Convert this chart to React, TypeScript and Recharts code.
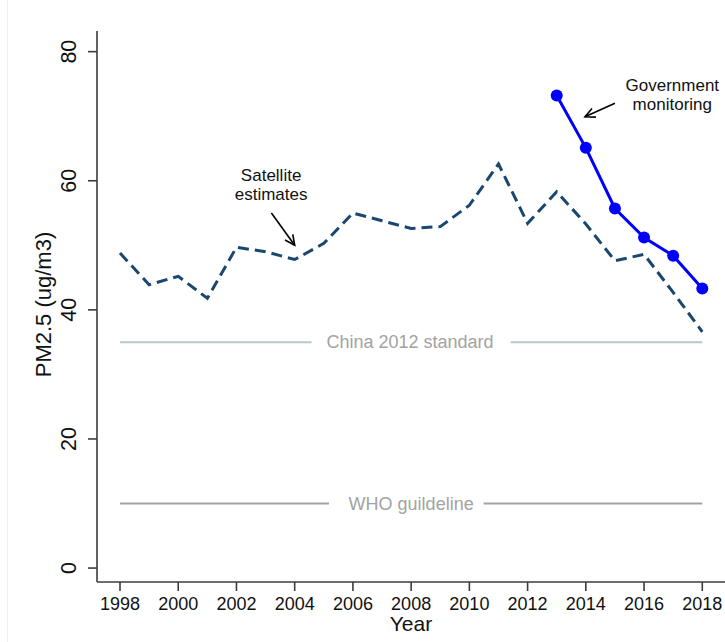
import { LineChart, Line, XAxis, YAxis, ReferenceLine, ReferenceDot } from 'recharts';

const YEARS = [
  1998, 1999, 2000, 2001, 2002, 2003, 2004, 2005, 2006, 2007, 2008,
  2009, 2010, 2011, 2012, 2013, 2014, 2015, 2016, 2017, 2018,
];
// satellite-derived PM2.5 (ug/m3)
const SATELLITE = [
  48.8, 43.9, 45.2, 41.8, 49.7, 49.0, 47.8, 50.3, 55.0, 53.8, 52.6,
  52.9, 56.2, 62.6, 53.4, 58.3, 53.3, 47.6, 48.6, 42.7, 36.6,
];
// ground station network
const GOV_YEARS = [2013, 2014, 2015, 2016, 2017, 2018];
const GOV = [73.2, 65.1, 55.7, 51.2, 48.4, 43.3];

const X_TICKS = [1998, 2000, 2002, 2004, 2006, 2008, 2010, 2012, 2014, 2016, 2018];
const Y_TICKS = [0, 20, 40, 60, 80];

const CHINA_STANDARD = 35;
const WHO_GUIDELINE = 10;

const FONT = '"Liberation Sans", Arial, sans-serif';
const AXIS = '#3c3c3c';
const NAVY = '#1a476f';
const BLUE = '#0000ff';
const GUIDE_TEXT = '#a3a3a3';

const data = YEARS.map((year, i) => {
  const g = GOV_YEARS.indexOf(year);
  return { year, satellite: SATELLITE[i], gov: g >= 0 ? GOV[g] : null };
});

const renderXTick = ({ x, y, payload }: any) => (
  <text x={x} y={y} dy={18.5} textAnchor="middle" fontSize={18} fontFamily={FONT} fill="#111">
    {payload.value}
  </text>
);

const renderYTick = ({ x, y, payload }: any) => (
  <text
    x={x - 12}
    y={y}
    transform={`rotate(-90 ${x - 12} ${y})`}
    textAnchor="middle"
    fontSize={21.5}
    fontFamily={FONT}
    fill="#111"
  >
    {payload.value}
  </text>
);

// straight line with an open arrowhead at the second point
const Arrow = (props: any) => {
  const { x1, y1, x2, y2 } = props;
  const ang = Math.atan2(y2 - y1, x2 - x1);
  const len = 11;
  const spread = 0.45;
  const a1 = ang + Math.PI - spread;
  const a2 = ang + Math.PI + spread;
  const head = `${x2 + len * Math.cos(a1)},${y2 + len * Math.sin(a1)} ${x2},${y2} ${
    x2 + len * Math.cos(a2)
  },${y2 + len * Math.sin(a2)}`;
  return (
    <g>
      <line x1={x1} y1={y1} x2={x2} y2={y2} stroke="#000" strokeWidth={1.6} />
      <polyline points={head} fill="none" stroke="#000" strokeWidth={1.6} />
    </g>
  );
};

// centered text block; first baseline sits on the anchor point
const textAt = (lines: string[], color: string, size: number, dy = 0) => (props: any) => (
  <text
    x={props.cx}
    y={props.cy + dy}
    textAnchor="middle"
    fontSize={size}
    fontFamily={FONT}
    fill={color}
  >
    {lines.map((l, i) => (
      <tspan key={l} x={props.cx} dy={i === 0 ? 0 : size * 1.15}>
        {l}
      </tspan>
    ))}
  </text>
);

export default function App() {
  return (
    <div style={{ position: 'absolute', left: 0, top: 0, width: 725, height: 642, background: '#fff' }}>
      <div style={{ position: 'absolute', left: 7, top: 0, width: 1, height: 642, background: '#efefef' }} />
      <LineChart
        width={725}
        height={642}
        data={data}
        margin={{ top: 31, right: 0, bottom: 0, left: 0 }}
        style={{ fontFamily: FONT }}
      >
        <XAxis
          dataKey="year"
          type="number"
          domain={[1997.21, 2018.78]}
          allowDataOverflow
          ticks={X_TICKS}
          interval={0}
          height={60}
          tickSize={9}
          tickMargin={0}
          axisLine={{ stroke: AXIS, strokeWidth: 1.6 }}
          tickLine={{ stroke: AXIS, strokeWidth: 1.6 }}
          tick={renderXTick}
          label={(p: any) => {
            const vb = p.viewBox || { x: 97, y: 582, width: 628, height: 60 };
            return (
              <text x={vb.x + vb.width / 2} y={vb.y + 49} textAnchor="middle" fontSize={21} fontFamily={FONT} fill="#111">
                Year
              </text>
            );
          }}
        />
        <YAxis
          type="number"
          domain={[-2.16, 83.2]}
          allowDataOverflow
          ticks={Y_TICKS}
          interval={0}
          width={97}
          tickSize={9}
          tickMargin={0}
          axisLine={{ stroke: AXIS, strokeWidth: 1.6 }}
          tickLine={{ stroke: AXIS, strokeWidth: 1.6 }}
          tick={renderYTick}
          label={(p: any) => {
            const vb = p.viewBox || { x: 0, y: 31, width: 97, height: 551 };
            const cx = vb.x + 50.5;
            const cy = vb.y + vb.height / 2 - 2;
            return (
              <text
                x={cx}
                y={cy}
                transform={`rotate(-90 ${cx} ${cy})`}
                textAnchor="middle"
                fontSize={22}
                fontFamily={FONT}
                fill="#111"
              >
                PM2.5 (ug/m3)
              </text>
            );
          }}
        />

        {/* China 2012 standard, broken around its label */}
        <ReferenceLine segment={[{ x: 1998, y: CHINA_STANDARD }, { x: 2004.58, y: CHINA_STANDARD }]} stroke="#b5c9c9" strokeWidth={2} />
        <ReferenceLine segment={[{ x: 2011.42, y: CHINA_STANDARD }, { x: 2018, y: CHINA_STANDARD }]} stroke="#b5c9c9" strokeWidth={2} />
        <ReferenceDot x={2007.96} y={CHINA_STANDARD} r={1} shape={textAt(['China 2012 standard'], GUIDE_TEXT, 18, 6)} />

        {/* WHO guideline */}
        <ReferenceLine segment={[{ x: 1998, y: WHO_GUIDELINE }, { x: 2005.18, y: WHO_GUIDELINE }]} stroke="#a3a3a3" strokeWidth={2} />
        <ReferenceLine segment={[{ x: 2010.49, y: WHO_GUIDELINE }, { x: 2018, y: WHO_GUIDELINE }]} stroke="#a3a3a3" strokeWidth={2} />
        <ReferenceDot x={2008.0} y={WHO_GUIDELINE} r={1} shape={textAt(['WHO guildeline'], GUIDE_TEXT, 18, 6)} />

        <Line
          dataKey="satellite"
          type="linear"
          stroke={NAVY}
          strokeWidth={3}
          strokeDasharray="11 6"
          dot={false}
          activeDot={false}
          isAnimationActive={false}
        />
        <Line
          dataKey="gov"
          type="linear"
          stroke={BLUE}
          strokeWidth={3}
          dot={{ r: 6, fill: BLUE, stroke: BLUE, strokeWidth: 0 }}
          activeDot={false}
          connectNulls={false}
          isAnimationActive={false}
        />

        {/* annotations */}
        <ReferenceDot x={2003.19} y={60.0} r={1} shape={textAt(['Satellite', 'estimates'], '#111', 17)} />
        <ReferenceLine segment={[{ x: 2003.2, y: 55.0 }, { x: 2004.0, y: 50.0 }]} shape={Arrow} />

        <ReferenceDot x={2016.97} y={73.95} r={1} shape={textAt(['Government', 'monitoring'], '#111', 17)} />
        <ReferenceLine segment={[{ x: 2015.0, y: 72.0 }, { x: 2013.97, y: 69.9 }]} shape={Arrow} />
      </LineChart>
    </div>
  );
}
